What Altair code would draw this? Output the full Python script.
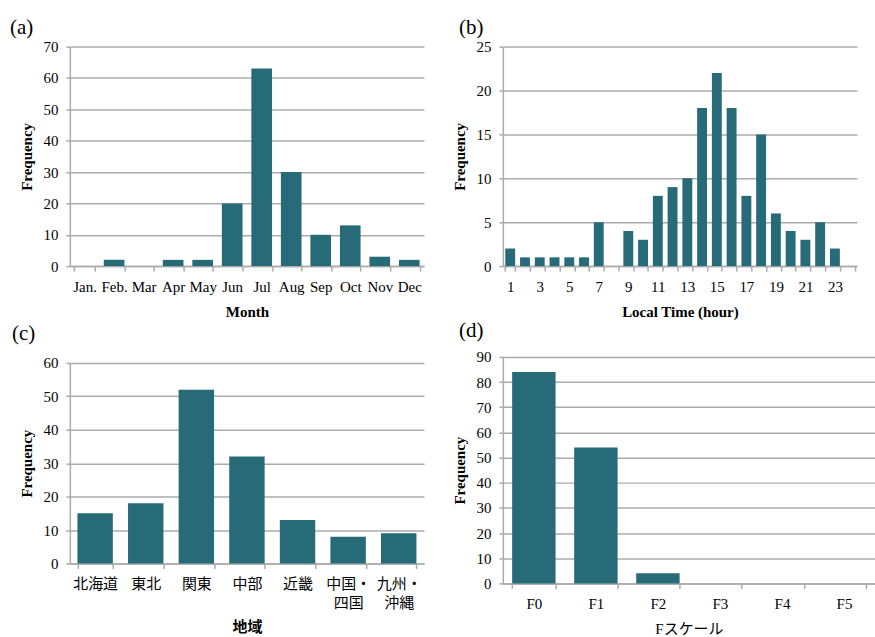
import altair as alt
import pandas as pd

# ---- data ----
months = ["Jan.", "Feb.", "Mar", "Apr", "May", "Jun", "Jul", "Aug", "Sep", "Oct", "Nov", "Dec"]
month_freq = [0, 2, 0, 2, 2, 20, 63, 30, 10, 13, 3, 2]

hours = list(range(1, 25))
hour_freq = [2, 1, 1, 1, 1, 1, 5, 0, 4, 3, 8, 9, 10, 18, 22, 18, 8, 15, 6, 4, 3, 5, 2, 0]

regions = ["北海道", "東北", "関東", "中部", "近畿", "中国・四国", "九州・沖縄"]
region_freq = [15, 18, 52, 32, 13, 8, 9]

fscale = ["F0", "F1", "F2", "F3", "F4", "F5"]
fscale_freq = [84, 54, 4, 0, 0, 0]

SERIF = "Liberation Serif, Noto Sans CJK JP"
BAR = "#276A78"
GRID = "#ABABAB"


def panel(cats, vals, xtitle, ymax, ystep, w, h, label, title_dx, title_offset,
          pad_inner=0.3, label_expr=None, xtitle_bold=True, xtitle_pad=10,
          xlabel_font=SERIF):
    df = pd.DataFrame({"cat": cats, "freq": vals})
    axis_kw = dict(
        title=xtitle, tickBand="extent", labelAngle=0, grid=False,
        tickSize=5, labelPadding=8, titlePadding=xtitle_pad,
        titleFontWeight="bold" if xtitle_bold else "normal",
        labelFont=xlabel_font, labelOverlap=False,
    )
    if label_expr:
        axis_kw["labelExpr"] = label_expr
    return (
        alt.Chart(df)
        .mark_bar(color=BAR)
        .encode(
            x=alt.X("cat:O", sort=cats,
                    scale=alt.Scale(paddingInner=pad_inner, paddingOuter=pad_inner / 2),
                    axis=alt.Axis(**axis_kw)),
            y=alt.Y("freq:Q", scale=alt.Scale(domain=[0, ymax], nice=False),
                    axis=alt.Axis(title="Frequency", values=list(range(0, ymax + 1, ystep)),
                                  grid=True, tickSize=4, labelPadding=8,
                                  titlePadding=8, titleFontWeight="bold")),
        )
        .properties(
            width=w, height=h,
            title=alt.TitleParams(label, anchor="start", frame="group", dx=title_dx,
                                  offset=title_offset, fontSize=21, font="Liberation Serif",
                                  fontWeight="normal", color="black"),
        )
    )


a = panel(months, month_freq, "Month", 70, 10, 355, 220, "(a)", -60, 2)
b = panel(hours, hour_freq, "Local Time (hour)", 25, 5, 355, 220, "(b)", -44, 2,
          pad_inner=0.33, label_expr="datum.value % 2 == 1 ? datum.label : ''")
split_expr = ("indexof(datum.label, '・') >= 0 ? "
              "[slice(datum.label, 0, indexof(datum.label, '・') + 1), "
              "slice(datum.label, indexof(datum.label, '・') + 1)] : datum.label")
c = panel(regions, region_freq, "地域", 60, 10, 355, 201, "(c)", -58, 12,
          label_expr=split_expr, xlabel_font="Noto Sans CJK JP", xtitle_pad=9)
d = panel(fscale, fscale_freq, "Fスケール", 90, 10, 373, 227, "(d)", -44, 9,
          xtitle_bold=False)

chart = (
    alt.hconcat(
        alt.vconcat(a, c, spacing=4),
        alt.vconcat(b, d, spacing=1),
        spacing=29,
    )
    .properties(padding={"left": 10, "top": 16, "right": 0, "bottom": 0})
    .configure_view(stroke=None)
    .configure_axis(
        labelFont=SERIF, titleFont=SERIF, labelFontSize=15, titleFontSize=15,
        labelColor="black", titleColor="black", gridColor=GRID, gridWidth=1.5,
        domainColor=GRID, domainWidth=1.5, tickColor=GRID, tickWidth=1.5,
        labelLineHeight=19,
    )
)

chart.save("out.html", embed_options={"renderer": "svg", "actions": False})
